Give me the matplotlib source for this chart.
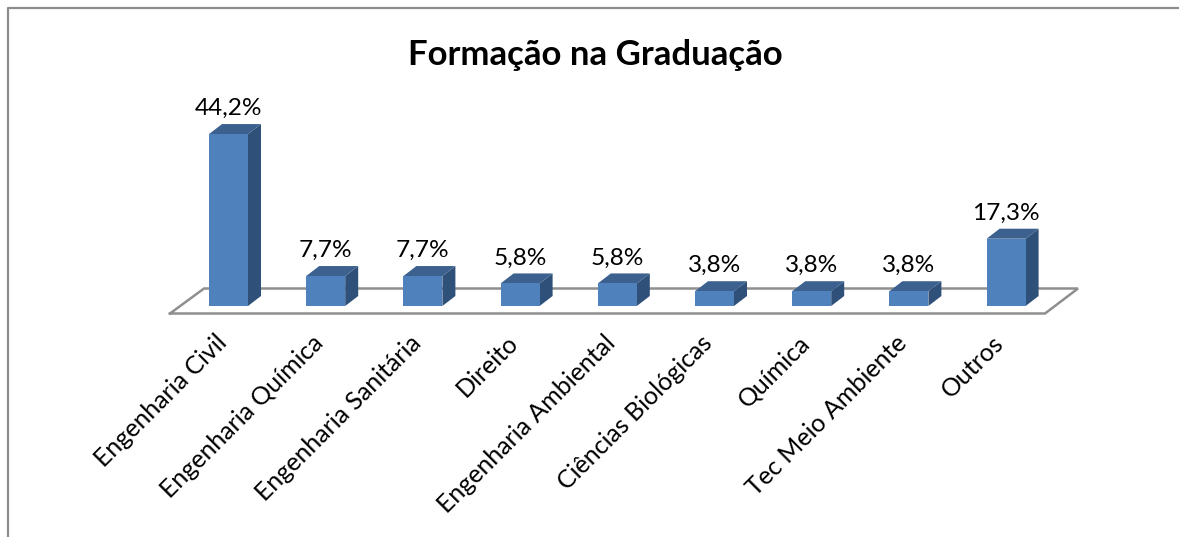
import matplotlib
matplotlib.use('Agg')
import matplotlib.pyplot as plt
from matplotlib.patches import Polygon

categories = ['Engenharia Civil', 'Engenharia Química', 'Engenharia Sanitária', 'Direito',
              'Engenharia Ambiental', 'Ciências Biológicas', 'Química', 'Tec Meio Ambiente', 'Outros']
values = [44.2, 7.7, 7.7, 5.8, 5.8, 3.8, 3.8, 3.8, 17.3]
labels = ['44,2%', '7,7%', '7,7%', '5,8%', '5,8%', '3,8%', '3,8%', '3,8%', '17,3%']

plt.rcParams['font.family'] = ['Lato', 'DejaVu Sans']

W, H = 1179, 537
px_x = 97.2   # pixels per category
px_y = 3.89   # pixels per percent
x0 = 228.5    # pixel centre of first bar
y0 = 306      # pixel baseline

fig = plt.figure(figsize=(W / 100, H / 100), dpi=100)
ax = fig.add_axes([0, 0, 1, 1])
ax.set_xlim(-x0 / px_x, (W - x0) / px_x)
ax.set_ylim(-(H - y0) / px_y, y0 / px_y)
ax.axis('off')

bw = 39 / px_x
dx = 13 / px_x
dy = 10 / px_y

# chart border, only top and left show
bx0, bx1 = ax.get_xlim()
by0, by1 = ax.get_ylim()
border_x = bx0 + 8.5 / px_x
border_y = by1 - 8 / px_y
ax.plot([border_x, border_x, bx1], [by0, border_y, border_y], color='#8c8c8c', lw=1.6, zorder=1)

# floor
fx = [170, 1045, 1078, 204, 170]
fy = [313.5, 313.5, 288.5, 288.5, 313.5]
ax.plot([(v - x0) / px_x for v in fx], [(y0 - v) / px_y for v in fy], color='#8f8f8f', lw=1.8,
        solid_joinstyle='miter', zorder=2)

for i, v in enumerate(values):
    l = i - bw / 2
    r = i + bw / 2
    ax.add_patch(Polygon([(l, 0), (r, 0), (r, v), (l, v)], fc='#4f81bd', ec='none', zorder=4))
    ax.add_patch(Polygon([(r, 0), (r + dx, dy), (r + dx, v + dy), (r, v)], fc='#2f5079', ec='none', zorder=3))
    ax.add_patch(Polygon([(l, v), (r, v), (r + dx, v + dy), (l + dx, v + dy)], fc='#3c618f', ec='none', zorder=3))
    ax.text(i, v + dy + 1.3, labels[i], ha='center', va='bottom', fontsize=17.6, color='black')
    ax.annotate(categories[i], xy=(i, 0), xytext=(-14, -25), textcoords='offset pixels',
                rotation=45, rotation_mode='anchor', ha='right', va='top', fontsize=18, color='black')

ax.text(((595 - x0) / px_x), (y0 - 55) / px_y, 'Formação na Graduação', ha='center', va='center',
        fontsize=25, fontweight='bold', color='black')

fig.savefig('out.png', dpi=100)
